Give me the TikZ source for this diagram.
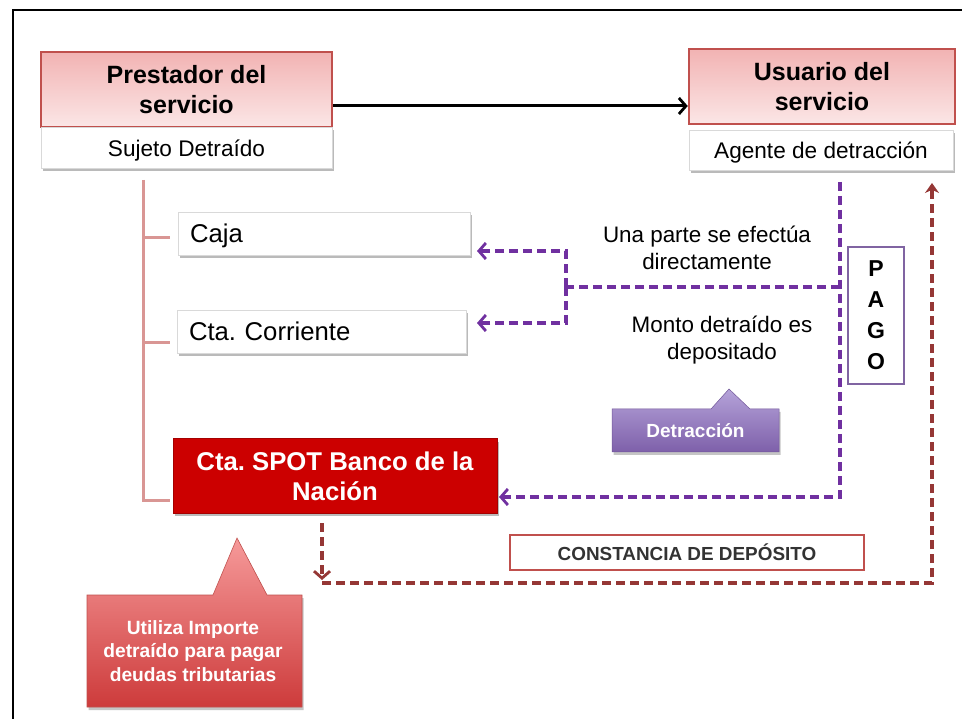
\documentclass[tikz,border=0pt]{standalone}
\usepackage{fontspec}
\setmainfont{Liberation Sans}
\usetikzlibrary{shadows,arrows.meta,calc}
\definecolor{titleborder}{HTML}{C0504D}
\definecolor{pinktop}{HTML}{F2B3B3}
\definecolor{pinkbot}{HTML}{FBE6E6}
\definecolor{treeline}{HTML}{D99694}
\definecolor{spotred}{HTML}{CC0000}
\definecolor{spotborder}{HTML}{A50000}
\definecolor{purp}{HTML}{7030A0}
\definecolor{pagoborder}{HTML}{8064A2}
\definecolor{dettop}{HTML}{B5A3D9}
\definecolor{detbot}{HTML}{7E60AA}
\definecolor{darkred}{HTML}{953735}
\definecolor{calltop}{HTML}{F69A9A}
\definecolor{callbot}{HTML}{CD3B3B}
\definecolor{textgray}{HTML}{333333}
\frenchspacing
\begin{document}
\begin{tikzpicture}[x=1pt,y=-1pt,
  titlebox/.style={draw=titleborder, line width=2.5pt, top color=pinktop, bottom color=pinkbot,
    font=\bfseries\fontsize{25}{30}\selectfont, align=center, inner sep=0pt},
  subbox/.style={draw=black!15, line width=0.6pt, fill=white,
    drop shadow={shadow xshift=1.5pt, shadow yshift=-3pt, fill=black!45, opacity=0.6},
    font=\fontsize{22.6}{27}\selectfont, inner sep=0pt, text depth=0pt},
  acctbox/.style={draw=black!15, line width=0.6pt, fill=white,
    drop shadow={shadow xshift=2pt, shadow yshift=-3pt, fill=black!45, opacity=0.6},
    font=\fontsize{25.7}{30}\selectfont, align=left, inner xsep=12pt, inner ysep=0pt,
    minimum height=43pt, text depth=0pt},
  treestyle/.style={draw=treeline, line width=3pt},
  purpdash/.style={draw=purp, line width=3.3pt, dash pattern=on 9pt off 5pt},
  reddash/.style={draw=darkred, line width=3.3pt, dash pattern=on 9pt off 5pt},
  barb/.style={-{Straight Barb[length=7pt,width=16pt,line width=2.8pt]}},
]
\useasboundingbox (0,0) rectangle (962,719);
\fill[white] (0,0) rectangle (962,719);
\draw[line width=2pt] (13,719) -- (13,10) -- (962,10);

% top boxes
\node[titlebox, minimum width=291pt, minimum height=75pt] (prest) at (186.5,89.5) {Prestador del\\servicio};
\node[subbox, minimum width=291pt, minimum height=41pt] (sujeto) at (186.5,148) {Sujeto Detraído};
\node[titlebox, minimum width=266pt, minimum height=75pt] (usu) at (822,86.5) {Usuario del\\servicio};
\node[subbox, minimum width=264pt, minimum height=40pt] (agente) at (821,150) {Agente de detracción};

\draw[line width=3pt, barb]
  ($(prest.east)+(0,16.5)$) -- ($(usu.west)+(0,19.5)$);

% account boxes
\node[acctbox, text width=268pt] (caja) at (324,233.5) {Caja};
\node[acctbox, text width=265pt] (cta) at (321.5,331.5) {Cta. Corriente};
\node[draw=spotborder, line width=1pt, fill=spotred,
  drop shadow={shadow xshift=1.5pt, shadow yshift=-3pt, fill=black!45, opacity=0.6},
  minimum width=324pt, minimum height=74pt, inner sep=0pt, align=center,
  text=white, font=\bfseries\fontsize{25.7}{30}\selectfont] (spot) at (335,476) {Cta. SPOT Banco de la\\Nación};

% tree line
\coordinate (trunk) at (143,180);
\coordinate (trunkend) at (143,500);
\draw[treestyle] (trunk) -- (trunkend) -- (170,500);
\draw[treestyle] (trunk |- 0,238) -- (170,238);
\draw[treestyle] (trunk |- 0,343) -- (170,343);

% PAGO box
\node[draw=pagoborder, line width=2pt, fill=white, minimum width=56pt, minimum height=137pt,
  inner sep=0pt, align=center, font=\bfseries\fontsize{23}{31}\selectfont] (pago) at (876,315.5) {P\\A\\G\\O};

% purple dashed flows
\coordinate (ptop) at (840,182);
\coordinate (pbranch) at (840,287);
\coordinate (pjoin) at (566,287);
\coordinate (cajain) at (477,251);
\coordinate (ctain) at (477,323);
\coordinate (spotin) at (499,497);
\draw[purpdash] (pbranch) -- (pjoin);
\draw[purpdash, barb] (pjoin) |- (cajain);
\draw[purpdash, barb] (pjoin) |- (ctain);
\draw[purpdash, barb] (ptop) |- (spotin);

\node[font=\fontsize{22.4}{27}\selectfont, align=center, inner sep=0pt] (txt1) at (707,248) {Una parte se efectúa\\directamente};
\node[font=\fontsize{22.4}{27}\selectfont, align=center, inner sep=0pt] (txt2) at (722,340) {Monto detraído es\\depositado};

% Detraccion callout
\shade[top color=dettop, bottom color=detbot, draw=detbot!90!black, line width=0.5pt,
  drop shadow={shadow xshift=1.5pt, shadow yshift=-3pt, fill=black!45, opacity=0.5}]
  (612,409) -- (711,409) -- (729,389) -- (750,409) -- (779,409) -- (779,452) -- (612,452) -- cycle;
\node[text=white, font=\bfseries\fontsize{19}{23}\selectfont, inner sep=0pt] (detr) at (695.5,431) {Detracción};

% red dashed flow
\coordinate (rstart) at (322,523);
\coordinate (rdown) at (322,580);
\coordinate (rcorner) at (322,583);
\coordinate (rup) at (932,183);
\draw[reddash, barb] (rstart) -- (rdown);
\draw[reddash, -{Stealth[length=10pt,width=14pt]}] (rcorner) -| (rup);

\node[draw=titleborder, line width=2.5pt, fill=white, minimum width=354pt, minimum height=35pt,
  inner sep=0pt, text=textgray, font=\bfseries\fontsize{18.9}{22}\selectfont] (const) at (687,552.5) {CONSTANCIA DE DEPÓSITO};

% Utiliza callout
\shade[top color=calltop, bottom color=callbot, draw=titleborder, line width=0.6pt,
  drop shadow={shadow xshift=1.5pt, shadow yshift=-3pt, fill=black!45, opacity=0.5}]
  (87,595) -- (213,595) -- (237,538) -- (267,595) -- (302,595) -- (302,707) -- (87,707) -- cycle;
\node[text=white, align=center, font=\bfseries\fontsize{19.2}{23.5}\selectfont, inner sep=0pt] (util) at (193,651) {Utiliza Importe\\detraído para pagar\\deudas tributarias};
\end{tikzpicture}
\end{document}
